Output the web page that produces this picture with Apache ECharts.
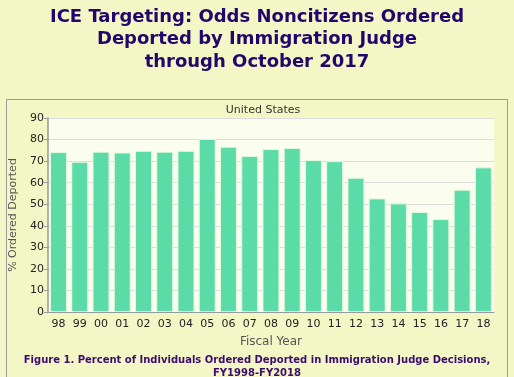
<!DOCTYPE html>
<html>
<head>
<meta charset="utf-8">
<script src="https://cdn.jsdelivr.net/npm/echarts@6/dist/echarts.min.js"></script>
<style>
  html, body { margin: 0; padding: 0; background: #f3f7c6; }
  #main { width: 514px; height: 377px; }
</style>
</head>
<body>
<div id="main"></div>
<script>
// fiscal years and percent ordered deported
var years = ["98", "99", "00", "01", "02", "03", "04", "05", "06", "07", "08",
  "09", "10", "11", "12", "13", "14", "15", "16", "17", "18"];
var pctDeported = [74.2, 69.7, 74.4, 74.0, 74.8, 74.4, 74.8, 80.3, 76.7, 72.4, 75.6,
  76.1, 70.5, 70.0, 62.3, 52.7, 50.4, 46.4, 43.1, 56.7, 67.1];
var yTicks = [0, 10, 20, 30, 40, 50, 60, 70, 80, 90];

var chart = echarts.init(document.getElementById("main"));
var option = {
  backgroundColor: "#f3f7c6",
  animation: false,
  graphic: [
    {
      type: "rect",
      z: -10,
      shape: { x: 6.5, y: 99.5, width: 501, height: 290 },
      style: { fill: "#f3f7c6", stroke: "#9a9a9a", lineWidth: 1 }
    }
  ],
  title: [
    {
      text: "ICE Targeting: Odds Noncitizens Ordered\nDeported by Immigration Judge\nthrough October 2017",
      left: "center",
      top: 1,
      textStyle: {
        fontFamily: "DejaVu Sans",
        fontWeight: "bold",
        fontSize: 18,
        lineHeight: 22.5,
        color: "#22066b"
      }
    },
    {
      text: "United States",
      left: 258,
      top: 100,
      textAlign: "center",
      textStyle: { fontFamily: "DejaVu Sans", fontWeight: "normal", fontSize: 11, color: "#333" }
    },
    {
      text: "Figure 1. Percent of Individuals Ordered Deported in Immigration Judge Decisions,\nFY1998-FY2018",
      left: "center",
      top: 349,
      textStyle: {
        fontFamily: "DejaVu Sans",
        fontWeight: "bold",
        fontSize: 10,
        lineHeight: 13,
        color: "#3c0b6e",
        align: "center"
      }
    }
  ],
  grid: {
    left: 44,
    right: 20,
    top: 118,
    bottom: 65,
    show: true,
    backgroundColor: "#fbfdef",
    borderWidth: 0
  },
  xAxis: {
    type: "category",
    data: years,
    name: "Fiscal Year",
    nameLocation: "middle",
    nameGap: 24,
    nameTextStyle: { fontFamily: "DejaVu Sans", fontSize: 12, color: "#555" },
    axisLine: { lineStyle: { color: "#999", width: 1 } },
    axisTick: { alignWithLabel: true, length: 4, lineStyle: { color: "#aaa" } },
    axisLabel: { fontFamily: "DejaVu Sans", fontSize: 11, color: "#222", margin: 7 }
  },
  yAxis: {
    type: "value",
    min: 0,
    max: 90,
    interval: 10,
    name: "% Ordered Deported",
    nameLocation: "middle",
    nameGap: 26,
    nameTextStyle: { fontFamily: "DejaVu Sans", fontSize: 11, color: "#555" },
    axisLine: { show: true, lineStyle: { color: "#999", width: 1.5 } },
    axisTick: { show: true, length: 4, lineStyle: { color: "#999" } },
    axisLabel: {
      fontFamily: "DejaVu Sans", fontSize: 11, color: "#222", margin: 4,
      formatter: function (v) { return yTicks.indexOf(v) >= 0 ? String(v) : ""; }
    },
    splitLine: { lineStyle: { color: "#dcdcdc" } }
  },
  series: [
    {
      type: "bar",
      data: pctDeported,
      barCategoryGap: "20%",
      itemStyle: { color: "#5bdba8", borderColor: "#e6f9df", borderWidth: 1 }
    }
  ]
};
chart.setOption(option);
</script>
</body>
</html>
